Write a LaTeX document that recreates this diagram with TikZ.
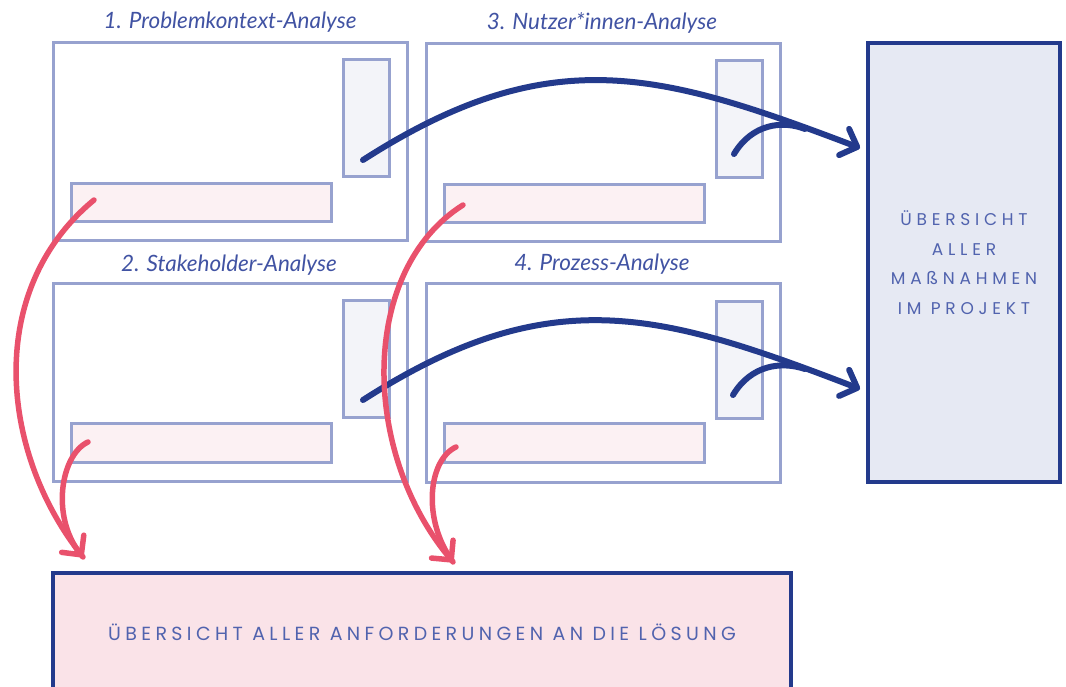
\documentclass[tikz,border=0pt]{standalone}
\usepackage{fontspec}
\setmainfont{Lato}
\newfontfamily\capsA[LetterSpace=28]{Poppins}
\newfontfamily\capsB[LetterSpace=23]{Poppins}
\usetikzlibrary{arrows.meta}
\definecolor{frame}{HTML}{97A2CF}
\definecolor{vfill}{HTML}{F3F4F9}
\definecolor{hfill}{HTML}{FCF1F3}
\definecolor{darkblue}{HTML}{233A8C}
\definecolor{pinkline}{HTML}{E9516C}
\definecolor{titleblue}{HTML}{4153A3}
\definecolor{capblue}{HTML}{5163AE}
\definecolor{rfill}{HTML}{E6E9F3}
\definecolor{bfill}{HTML}{FAE3E8}
\tikzset{
  panel/.style={draw=frame, line width=3pt, fill=white, inner sep=0pt, minimum width=354pt},
  vbox/.style={draw=frame, line width=3pt, fill=vfill, inner sep=0pt, minimum width=46pt, minimum height=117pt},
  hbox/.style={draw=frame, line width=3pt, fill=hfill, inner sep=0pt, minimum width=260pt, minimum height=38.5pt},
  title/.style={text=titleblue, font=\itshape\fontsize{22.5}{26}\selectfont, inner sep=0pt},
  bigbox/.style={draw=darkblue, line width=3.2pt, inner sep=0pt, text=capblue, align=center},
  bluearrow/.style={draw=darkblue, line width=6pt, line cap=round, line join=round},
  pinkarrow/.style={draw=pinkline, line width=5.5pt, line cap=round, line join=round},
  bhead/.style={-{Straight Barb[length=14pt, width=28pt, line cap=round, line join=round]}},
}
\begin{document}
\begin{tikzpicture}[x=1pt, y=-1pt]
\useasboundingbox (0,0) rectangle (1066,687);
\clip (0,0) rectangle (1066,687);
% panels
\node[panel, minimum height=198pt] (P1) at (230,142) {};
\node[vbox] (V1) at (366,118.5) {};
\node[hbox] (H1) at (201,202.5) {};
\node[panel, minimum height=198pt] (P3) at (603,143) {};
\node[vbox] (V3) at (739,119.5) {};
\node[hbox] (H3) at (574,203.5) {};
\node[panel, minimum height=197pt] (P2) at (230,382.5) {};
\node[vbox] (V2) at (366,358.5) {};
\node[hbox] (H2) at (201,443) {};
\node[panel, minimum height=198pt] (P4) at (603,383) {};
\node[vbox] (V4) at (739,359.5) {};
\node[hbox] (H4) at (574,443) {};
% titles
\node[title] (T1) at (230,22) {1. Problemkontext-Analyse};
\node[title] (T3) at (602,23) {3. Nutzer*innen-Analyse};
\node[title] (T2) at (229,265) {2. Stakeholder-Analyse};
\node[title] (T4) at (602,264) {4. Prozess-Analyse};
% summary boxes
\node[bigbox, fill=rfill, minimum width=192pt, minimum height=439pt,
      font=\capsA\fontsize{17}{29.5}\selectfont] (R) at (964,262.5)
  {ÜBERSICHT\\ALLER\\MAßNAHMEN\\IM PROJEKT};
\node[bigbox, fill=bfill, minimum width=738pt, minimum height=118pt,
      font=\capsB\fontsize{19}{22}\selectfont] (B) at (422,632)
  {ÜBERSICHT ALLER ANFORDERUNGEN AN DIE LÖSUNG};
% arrow anchors
\coordinate (s1) at (363,160);
\coordinate (s3) at (734,154);
\coordinate (m1) at (805,129);
\coordinate (e1) at (860,148);
\coordinate (s2) at (363,400);
\coordinate (s4) at (733,395);
\coordinate (m2) at (805,369);
\coordinate (e2) at (860,389);
\coordinate (p1) at (94,200);
\coordinate (p2) at (88,442);
\coordinate (ea) at (83,557);
\coordinate (p3) at (463,205);
\coordinate (p4) at (456,447);
\coordinate (eb) at (453,562);
% blue arrows
\draw[bluearrow, bhead] (s1) .. controls (550,40) and (660,72) .. (e1);
\draw[bluearrow] (s3) .. controls (752,124) and (782,120) .. (m1);
\draw[bluearrow, bhead] (s2) .. controls (550,280) and (660,312) .. (e2);
\draw[bluearrow] (s4) .. controls (751,365) and (781,361) .. (m2);
% pink arrows
\draw[pinkarrow, bhead] (p1) .. controls (-15,290) and (0,450) .. (ea);
\draw[pinkarrow] (p2) .. controls (60,455) and (50,520) .. (ea);
\draw[pinkarrow, bhead] (p3) .. controls (360,270) and (360,450) .. (eb);
\draw[pinkarrow] (p4) .. controls (428,460) and (422,520) .. (eb);
\end{tikzpicture}
\end{document}
